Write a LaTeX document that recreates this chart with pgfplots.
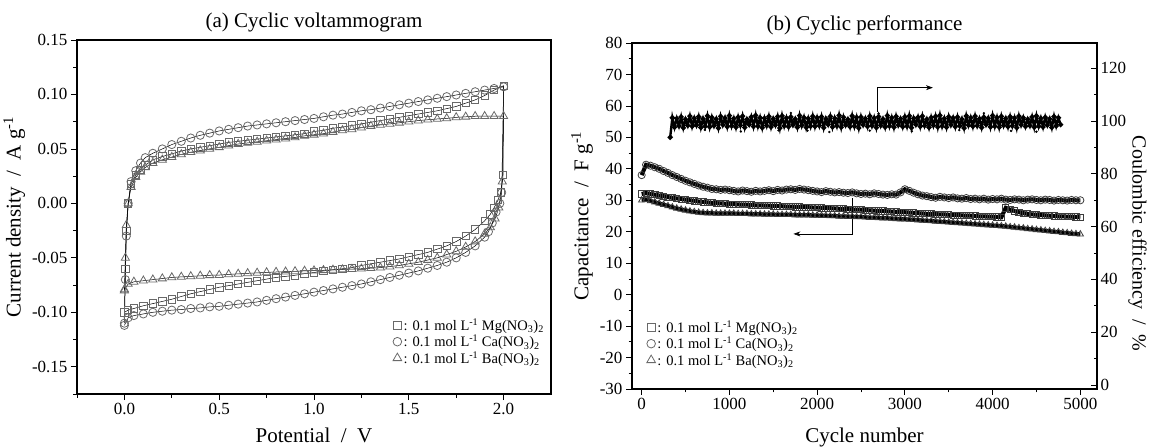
\documentclass[border=0pt]{standalone}
\usepackage{fontspec}
\setmainfont{Liberation Serif}
\usepackage{pgfplots}
\pgfplotsset{compat=1.18}
\usetikzlibrary{arrows.meta}
\definecolor{mk}{RGB}{105,105,105}
\definecolor{bk}{RGB}{60,60,60}
\begin{document}
\begin{tikzpicture}[x=1pt,y=1pt]
\path[use as bounding box] (0,0) rectangle (1151,447);
% ---------------- (a) ----------------
\begin{axis}[
  at={(77pt,53pt)}, anchor=south west, scale only axis,
  width=474pt, height=354pt,
  xmin=-0.25, xmax=2.25, ymin=-0.175, ymax=0.15,
  xtick={0,0.5,1,1.5,2}, xticklabels={0.0,0.5,1.0,1.5,2.0},
  ytick={-0.15,-0.1,-0.05,0,0.05,0.1,0.15},
  yticklabels={-0.15,-0.10,-0.05,0.00,0.05,0.10,0.15},
  minor xtick={-0.25,0.25,0.75,1.25,1.75},
  minor ytick={-0.175,-0.125,-0.075,-0.025,0.025,0.075,0.125},
  tick align=outside, xtick pos=bottom, ytick pos=left,
  major tick length=6pt, minor tick length=3.5pt,
  tick style={black, line width=0.8pt},
  axis line style={line width=1.2pt},
  tick label style={font=\fontsize{17}{17}\selectfont},
  title={(a) Cyclic voltammogram},
  title style={font=\fontsize{21}{21}\selectfont, yshift=-2pt},
  xlabel={Potential\ \ /\ \ V},
  xlabel style={yshift=-6pt},
  ylabel={Current density\ \ /\ \ A g\textsuperscript{-1}},
  label style={font=\fontsize{21}{21}\selectfont},
  legend style={at={(0.66,0.225)}, anchor=north west, draw=none, fill=none,
    font=\fontsize{14.5}{15}\selectfont, row sep=-1pt},
  legend cell align=left,
  every axis plot/.append style={line width=0.5pt},
]
\addlegendimage{only marks, mark=square, mark size=4, mk, line width=0.8pt}
\addlegendentry{: 0.1 mol L\textsuperscript{-1} Mg(NO\textsubscript{3})\textsubscript{2}}
\addlegendimage{only marks, mark=o, mark size=4.3, mk, line width=0.8pt}
\addlegendentry{: 0.1 mol L\textsuperscript{-1} Ca(NO\textsubscript{3})\textsubscript{2}}
\addlegendimage{only marks, mark=triangle, mark size=5, mk, line width=0.8pt}
\addlegendentry{: 0.1 mol L\textsuperscript{-1} Ba(NO\textsubscript{3})\textsubscript{2}}
% Mg
\addplot[black, forget plot, mark=square, mark size=3.7, mark options={mk, line width=0.8pt, fill=none}] coordinates {
(0.000,-0.100)(0.005,-0.060)(0.010,-0.025)(0.020,0.000)(0.035,0.018)(0.060,0.026)(0.085,0.031)(0.110,0.035)(0.150,0.040)(0.200,0.043)(0.250,0.0455)(0.300,0.048)(0.350,0.050)(0.400,0.0515)(0.450,0.053)(0.500,0.0545)(0.550,0.056)(0.600,0.057)(0.650,0.058)(0.700,0.059)(0.750,0.060)(0.800,0.061)(0.850,0.062)(0.900,0.063)(0.950,0.064)(1.000,0.066)(1.050,0.067)(1.100,0.069)(1.150,0.070)(1.200,0.0715)(1.250,0.073)(1.300,0.0745)(1.350,0.076)(1.400,0.0775)(1.450,0.079)(1.500,0.0805)(1.550,0.082)(1.600,0.0835)(1.650,0.085)(1.700,0.087)(1.750,0.089)(1.800,0.092)(1.850,0.095)(1.900,0.099)(1.950,0.104)(2.000,0.108)
(1.997,0.026)(1.985,0.010)(1.970,0.003)(1.950,-0.004)(1.930,-0.010)(1.900,-0.016)(1.850,-0.024)(1.800,-0.030)(1.750,-0.035)(1.700,-0.039)(1.650,-0.042)(1.600,-0.045)(1.550,-0.047)(1.500,-0.049)(1.450,-0.051)(1.400,-0.0525)(1.350,-0.054)(1.300,-0.0555)(1.250,-0.057)(1.200,-0.059)(1.150,-0.060)(1.100,-0.061)(1.050,-0.062)(1.000,-0.0635)(0.950,-0.0645)(0.900,-0.066)(0.850,-0.067)(0.800,-0.068)(0.750,-0.0695)(0.700,-0.071)(0.650,-0.0725)(0.600,-0.074)(0.550,-0.0755)(0.500,-0.077)(0.450,-0.079)(0.400,-0.081)(0.350,-0.083)(0.300,-0.0855)(0.250,-0.088)(0.200,-0.090)(0.150,-0.092)(0.100,-0.094)(0.050,-0.0965)(0.020,-0.098)(0.000,-0.100)
};
% Ca
\addplot[black, forget plot, mark=o, mark size=4.1, mark options={mk, line width=0.8pt, fill=none}] coordinates {
(0.000,-0.110)(0.005,-0.070)(0.010,-0.030)(0.020,0.000)(0.035,0.020)(0.060,0.030)(0.085,0.037)(0.110,0.042)(0.150,0.046)(0.200,0.050)(0.250,0.054)(0.300,0.057)(0.350,0.060)(0.400,0.0625)(0.450,0.0645)(0.500,0.0665)(0.550,0.068)(0.600,0.0695)(0.650,0.071)(0.700,0.072)(0.750,0.073)(0.800,0.074)(0.850,0.075)(0.900,0.076)(0.950,0.077)(1.000,0.078)(1.050,0.0795)(1.100,0.081)(1.150,0.082)(1.200,0.0835)(1.250,0.085)(1.300,0.086)(1.350,0.0875)(1.400,0.089)(1.450,0.0905)(1.500,0.092)(1.550,0.0935)(1.600,0.095)(1.650,0.0965)(1.700,0.098)(1.750,0.0995)(1.800,0.101)(1.850,0.1025)(1.900,0.104)(1.950,0.1055)(2.000,0.107)
(1.990,0.010)(1.980,0.000)(1.960,-0.008)(1.940,-0.018)(1.920,-0.026)(1.900,-0.031)(1.850,-0.039)(1.800,-0.045)(1.750,-0.050)(1.700,-0.054)(1.650,-0.057)(1.600,-0.0595)(1.550,-0.062)(1.500,-0.064)(1.450,-0.066)(1.400,-0.068)(1.350,-0.070)(1.300,-0.072)(1.250,-0.074)(1.200,-0.0755)(1.150,-0.077)(1.100,-0.0785)(1.050,-0.080)(1.000,-0.0815)(0.950,-0.083)(0.900,-0.0845)(0.850,-0.086)(0.800,-0.0875)(0.750,-0.089)(0.700,-0.0905)(0.650,-0.0915)(0.600,-0.0925)(0.550,-0.0935)(0.500,-0.0945)(0.450,-0.095)(0.400,-0.096)(0.350,-0.0965)(0.300,-0.0975)(0.250,-0.098)(0.200,-0.099)(0.150,-0.100)(0.100,-0.1015)(0.050,-0.103)(0.020,-0.105)(0.000,-0.112)
};
% Ba
\addplot[black, forget plot, mark=triangle, mark size=4.7, mark options={mk, line width=0.8pt, fill=none}] coordinates {
(0.000,-0.080)(0.005,-0.050)(0.010,-0.020)(0.020,0.000)(0.035,0.015)(0.060,0.024)(0.085,0.029)(0.110,0.033)(0.150,0.037)(0.200,0.040)(0.250,0.0425)(0.300,0.045)(0.350,0.047)(0.400,0.0485)(0.450,0.050)(0.500,0.0515)(0.550,0.053)(0.600,0.0545)(0.650,0.0555)(0.700,0.0565)(0.750,0.0575)(0.800,0.0585)(0.850,0.0595)(0.900,0.0605)(0.950,0.062)(1.000,0.063)(1.050,0.064)(1.100,0.0655)(1.150,0.067)(1.200,0.068)(1.250,0.0695)(1.300,0.071)(1.350,0.072)(1.400,0.073)(1.450,0.074)(1.500,0.075)(1.550,0.076)(1.600,0.0768)(1.650,0.0775)(1.700,0.078)(1.750,0.079)(1.800,0.0795)(1.850,0.080)(1.900,0.080)(1.950,0.080)(2.000,0.080)
(1.993,0.020)(1.975,-0.004)(1.955,-0.014)(1.930,-0.022)(1.900,-0.028)(1.850,-0.035)(1.800,-0.040)(1.750,-0.044)(1.700,-0.047)(1.650,-0.050)(1.600,-0.052)(1.550,-0.054)(1.500,-0.0555)(1.450,-0.057)(1.400,-0.058)(1.350,-0.059)(1.300,-0.0595)(1.250,-0.060)(1.200,-0.0603)(1.150,-0.0607)(1.100,-0.061)(1.050,-0.0614)(1.000,-0.0617)(0.950,-0.062)(0.900,-0.0624)(0.850,-0.0627)(0.800,-0.063)(0.750,-0.0634)(0.700,-0.0638)(0.650,-0.0642)(0.600,-0.0647)(0.550,-0.0652)(0.500,-0.0658)(0.450,-0.066)(0.400,-0.0665)(0.350,-0.067)(0.300,-0.0675)(0.250,-0.068)(0.200,-0.069)(0.150,-0.070)(0.100,-0.071)(0.050,-0.072)(0.020,-0.074)(0.000,-0.079)
};
\end{axis}
% ---------------- (b) ----------------
\begin{axis}[
  at={(632pt,58pt)}, anchor=south west, scale only axis,
  width=465pt, height=346pt,
  xmin=-110, xmax=5190, ymin=-30, ymax=80,
  xtick={0,1000,2000,3000,4000,5000},
  xticklabels={0,1000,2000,3000,4000,5000},
  minor xtick={500,1500,2500,3500,4500},
  ytick={-30,-20,-10,0,10,20,30,40,50,60,70,80},
  yticklabels={-30,-20,-10,0,10,20,30,40,50,60,70,80},
  minor ytick={-25,-15,-5,5,15,25,35,45,55,65,75},
  tick align=outside, xtick pos=bottom, ytick pos=left,
  major tick length=6pt, minor tick length=3.5pt,
  tick style={black, line width=0.8pt},
  axis line style={line width=1.1pt},
  tick label style={font=\fontsize{17}{17}\selectfont},
  title={(b) Cyclic performance},
  title style={font=\fontsize{21}{21}\selectfont, yshift=-2pt},
  xlabel={Cycle number},
  xlabel style={yshift=-11pt},
  ylabel={Capacitance\ \ /\ \ F g\textsuperscript{-1}},
  label style={font=\fontsize{21}{21}\selectfont},
  legend style={at={(0.025,0.21)}, anchor=north west, draw=none, fill=none,
    font=\fontsize{14.5}{15}\selectfont, row sep=-1pt},
  legend cell align=left,
]
\addlegendimage{only marks, mark=square, mark size=4, mk, line width=0.8pt}
\addlegendentry{: 0.1 mol L\textsuperscript{-1} Mg(NO\textsubscript{3})\textsubscript{2}}
\addlegendimage{only marks, mark=o, mark size=4.3, mk, line width=0.8pt}
\addlegendentry{: 0.1 mol L\textsuperscript{-1} Ca(NO\textsubscript{3})\textsubscript{2}}
\addlegendimage{only marks, mark=triangle, mark size=5, mk, line width=0.8pt}
\addlegendentry{: 0.1 mol L\textsuperscript{-1} Ba(NO\textsubscript{3})\textsubscript{2}}
% Ba
\addplot[black, line width=4pt, forget plot, mark=triangle, mark size=3.6, mark options={bk, line width=0.8pt, fill=none}] coordinates {
(0,30.0)(50,30.2)(100,29.8)(150,29.4)(200,29.0)(250,28.6)(300,28.2)(350,27.8)(400,27.4)(450,27.1)(500,26.8)(550,26.5)(600,26.3)(650,26.1)(700,26.0)(750,25.9)(800,25.9)(850,25.8)(900,25.8)(950,25.8)(1000,25.8)(1050,25.8)(1100,25.7)(1150,25.7)(1200,25.7)(1250,25.6)(1300,25.6)(1350,25.6)(1400,25.5)(1450,25.5)(1500,25.5)(1550,25.4)(1600,25.4)(1650,25.4)(1700,25.4)(1750,25.3)(1800,25.3)(1850,25.3)(1900,25.3)(1950,25.2)(2000,25.2)(2050,25.1)(2100,25.1)(2150,25.0)(2200,25.0)(2250,24.9)(2300,24.9)(2350,24.8)(2400,24.8)(2450,24.7)(2500,24.7)(2550,24.6)(2600,24.5)(2650,24.5)(2700,24.4)(2750,24.3)(2800,24.3)(2850,24.2)(2900,24.1)(2950,24.0)(3000,24.0)(3050,23.9)(3100,23.8)(3150,23.7)(3200,23.6)(3250,23.5)(3300,23.4)(3350,23.3)(3400,23.2)(3450,23.1)(3500,23.0)(3550,22.9)(3600,22.8)(3650,22.7)(3700,22.6)(3750,22.5)(3800,22.4)(3850,22.3)(3900,22.2)(3950,22.1)(4000,22.0)(4050,21.9)(4100,21.8)(4150,21.7)(4200,21.5)(4250,21.4)(4300,21.2)(4350,21.1)(4400,20.9)(4450,20.8)(4500,20.6)(4550,20.5)(4600,20.3)(4650,20.2)(4700,20.0)(4750,19.9)(4800,19.7)(4850,19.6)(4900,19.4)(4950,19.3)(5000,19.2)
};
% Mg
\addplot[black, line width=4pt, forget plot, mark=square, mark size=3.1, mark options={bk, line width=0.8pt, fill=none}] coordinates {
(0,32.0)(50,32.3)(100,32.0)(150,31.8)(200,31.5)(250,31.3)(300,31.0)(350,30.8)(400,30.6)(450,30.4)(500,30.2)(550,30.0)(600,29.8)(650,29.6)(700,29.5)(750,29.3)(800,29.2)(850,29.1)(900,29.0)(950,28.9)(1000,28.8)(1050,28.8)(1100,28.7)(1150,28.6)(1200,28.6)(1250,28.5)(1300,28.4)(1350,28.4)(1400,28.3)(1450,28.3)(1500,28.2)(1550,28.2)(1600,28.1)(1650,28.0)(1700,28.0)(1750,27.9)(1800,27.9)(1850,27.8)(1900,27.8)(1950,27.7)(2000,27.7)(2050,27.6)(2100,27.5)(2150,27.5)(2200,27.4)(2250,27.3)(2300,27.3)(2350,27.2)(2400,27.1)(2450,27.0)(2500,27.0)(2550,26.9)(2600,26.8)(2650,26.7)(2700,26.6)(2750,26.6)(2800,26.5)(2850,26.4)(2900,26.3)(2950,26.2)(3000,26.2)(3050,26.1)(3100,26.0)(3150,25.9)(3200,25.8)(3250,25.7)(3300,25.7)(3350,25.6)(3400,25.5)(3450,25.5)(3500,25.4)(3550,25.3)(3600,25.3)(3650,25.2)(3700,25.1)(3750,25.1)(3800,25.0)(3850,24.9)(3900,24.9)(3950,24.8)(4000,24.8)(4050,24.7)(4100,24.6)(4150,27.6)(4200,27.0)(4250,26.6)(4300,26.2)(4350,25.9)(4400,25.7)(4450,25.5)(4500,25.4)(4550,25.3)(4600,25.2)(4650,25.1)(4700,25.0)(4750,24.9)(4800,24.9)(4850,24.8)(4900,24.8)(4950,24.7)(5000,24.6)
};
% Ca
\addplot[black, line width=4pt, forget plot, mark=o, mark size=3.6, mark options={bk, line width=0.8pt, fill=none}] coordinates {
(0,38.0)(50,41.3)(100,41.0)(150,40.5)(200,40.0)(250,39.3)(300,38.7)(350,38.0)(400,37.4)(450,36.8)(500,36.2)(550,35.7)(600,35.2)(650,34.7)(700,34.3)(750,34.0)(800,33.6)(850,33.5)(900,33.3)(950,33.4)(1000,33.2)(1050,33.0)(1100,32.8)(1150,33.1)(1200,32.9)(1250,32.7)(1300,33.0)(1350,32.8)(1400,33.0)(1450,33.2)(1500,32.9)(1550,33.3)(1600,33.1)(1650,33.4)(1700,33.5)(1750,33.3)(1800,33.6)(1850,33.4)(1900,33.2)(1950,33.0)(2000,32.8)(2050,32.6)(2100,32.9)(2150,32.7)(2200,32.5)(2250,32.6)(2300,32.4)(2350,32.3)(2400,32.5)(2450,32.2)(2500,32.0)(2550,32.1)(2600,31.9)(2650,32.2)(2700,32.0)(2750,31.8)(2800,31.7)(2850,31.9)(2900,31.8)(2950,32.5)(3000,33.5)(3050,33.0)(3100,32.4)(3150,31.9)(3200,31.5)(3250,31.3)(3300,31.0)(3350,30.8)(3400,31.1)(3450,30.9)(3500,30.7)(3550,30.9)(3600,30.6)(3650,30.5)(3700,30.7)(3750,30.4)(3800,30.5)(3850,30.3)(3900,30.5)(3950,30.2)(4000,30.4)(4050,30.3)(4100,30.5)(4150,30.2)(4200,30.1)(4250,30.3)(4300,30.2)(4350,30.0)(4400,30.2)(4450,30.3)(4500,30.1)(4550,30.0)(4600,30.2)(4650,30.1)(4700,29.9)(4750,30.1)(4800,30.0)(4850,29.9)(4900,30.1)(4950,30.0)(5000,30.0)
};
% annotation arrows
\draw[line width=0.7pt, -{Stealth[length=7pt,width=5pt]}] (axis cs:2690,58.2) -- (axis cs:2690,65.8) -- (axis cs:3320,65.8);
\draw[line width=0.7pt, -{Stealth[length=7pt,width=5pt]}] (axis cs:2400,30.7) -- (axis cs:2400,19.3) -- (axis cs:1730,19.3);
\end{axis}
\begin{axis}[
  at={(632pt,58pt)}, anchor=south west, scale only axis,
  width=465pt, height=346pt,
  xmin=-110, xmax=5190, ymin=-1.5, ymax=129.5,
  axis x line=none, axis y line*=right,
  ytick={0,20,40,60,80,100,120},
  minor ytick={10,30,50,70,90,110},
  tick align=inside,
  major tick length=6pt, minor tick length=3.5pt,
  tick style={black, line width=0.8pt},
  axis line style={line width=1.1pt},
  yticklabel style={font=\fontsize{17}{17}\selectfont},
  /pgf/number format/assume math mode=true,
  ylabel={Coulombic efficiency\ \ /\ \ \%},
  ylabel style={font=\fontsize{20}{20}\selectfont, at={(axis description cs:1.087,0.42)}, anchor=center, inner sep=0pt, rotate=180},
]
\addplot[black, line width=2.4pt, mark=*, mark size=1.2] coordinates {
(325,93.8)(350,101.2)(375,97.6)(400,100.9)(425,98.1)(450,101.5)(475,97.4)(500,100.6)(525,98.3)(550,101.8)
(575,97.9)(600,101.0)(625,98.4)(650,101.6)(675,97.5)(700,100.8)(725,98.0)(750,101.9)(775,97.7)(800,101.3)
(825,98.2)(850,100.7)(875,97.3)(900,101.7)(925,98.5)(950,101.1)(975,97.8)(1000,102.0)(1025,98.1)(1050,100.9)
(1075,97.6)(1100,101.4)(1125,98.3)(1150,101.8)(1175,97.5)(1200,100.6)(1225,98.6)(1250,101.5)(1275,97.9)(1300,102.1)
(1325,98.0)(1350,101.2)(1375,97.4)(1400,101.0)(1425,98.2)(1450,101.7)(1475,97.7)(1500,100.8)(1525,98.4)(1550,101.6)
(1575,97.3)(1600,101.9)(1625,98.1)(1650,101.1)(1675,97.8)(1700,101.5)(1725,98.5)(1750,100.7)(1775,97.6)(1800,102.0)
(1825,98.3)(1850,101.3)(1875,97.5)(1900,100.9)(1925,98.0)(1950,101.8)(1975,97.9)(2000,101.2)(2025,98.2)(2050,101.6)
(2075,97.4)(2100,100.8)(2125,98.6)(2150,101.7)(2175,97.7)(2200,101.0)(2225,98.1)(2250,102.1)(2275,97.6)(2300,101.4)
(2325,98.4)(2350,100.6)(2375,97.8)(2400,101.9)(2425,98.0)(2450,101.3)(2475,97.3)(2500,101.5)(2525,98.5)(2550,100.9)
(2575,97.9)(2600,101.8)(2625,98.2)(2650,101.1)(2675,97.5)(2700,101.6)(2725,98.3)(2750,100.7)(2775,97.7)(2800,102.0)
(2825,98.1)(2850,101.2)(2875,97.6)(2900,101.7)(2925,98.4)(2950,100.8)(2975,97.8)(3000,101.5)(3025,98.0)(3050,101.9)
(3075,97.4)(3100,101.0)(3125,98.6)(3150,101.4)(3175,97.9)(3200,101.8)(3225,98.2)(3250,100.6)(3275,97.5)(3300,101.3)
(3325,98.3)(3350,101.7)(3375,97.7)(3400,102.1)(3425,98.0)(3450,100.9)(3475,97.6)(3500,101.6)(3525,98.5)(3550,101.1)
(3575,97.8)(3600,101.5)(3625,98.1)(3650,100.7)(3675,97.3)(3700,101.9)(3725,98.4)(3750,101.2)(3775,97.9)(3800,101.8)
(3825,98.2)(3850,100.8)(3875,97.5)(3900,101.4)(3925,98.6)(3950,101.0)(3975,97.7)(4000,102.0)(4025,98.0)(4050,101.3)
(4075,97.6)(4100,101.7)(4125,98.3)(4150,100.9)(4175,97.8)(4200,101.6)(4225,98.1)(4250,101.1)(4275,97.4)(4300,101.8)
(4325,98.5)(4350,101.2)(4375,97.9)(4400,100.6)(4425,98.2)(4450,101.5)(4475,97.6)(4500,101.9)(4525,98.0)(4550,101.0)
(4575,97.7)(4600,101.4)(4625,98.4)(4650,100.8)(4675,97.5)(4700,101.7)(4725,98.1)(4750,101.2)(4775,98.6)
};
\addplot[black, only marks, mark=*, mark size=1] coordinates {
(720,96.6)(1130,96.0)(1560,96.4)(1890,96.3)(2140,95.8)(2600,96.3)(3080,96.1)(3620,96.5)(4210,96.2)(4500,95.9)(1700,103.0)(2700,102.8)(3900,102.9)
};
\end{axis}
\end{tikzpicture}
\end{document}
